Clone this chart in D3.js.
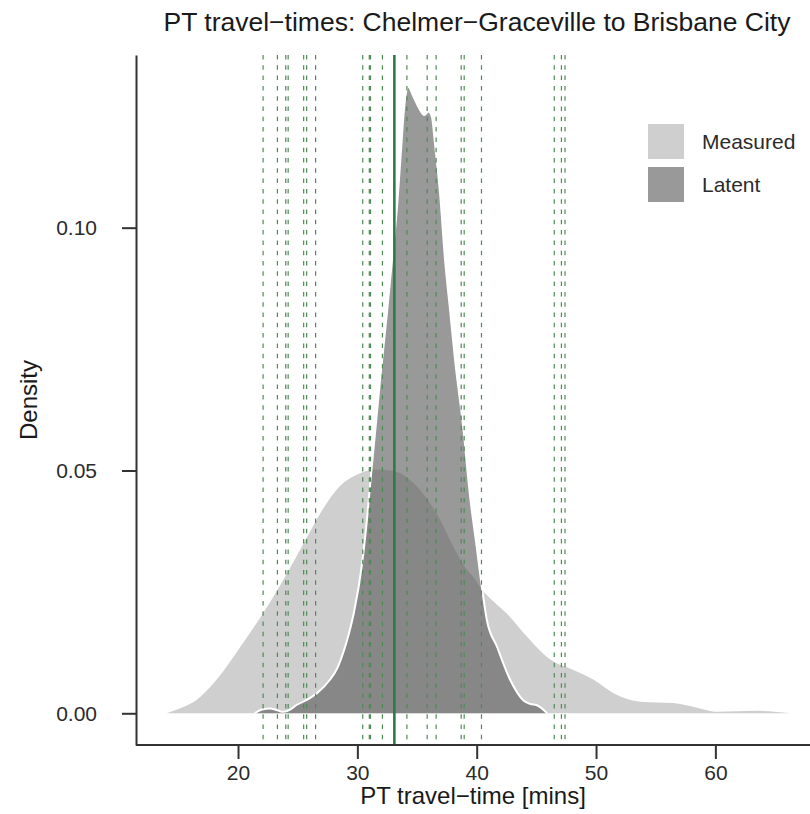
<!DOCTYPE html>
<html><head><meta charset="utf-8">
<script src="https://cdn.jsdelivr.net/npm/d3@7"></script>
<style>
body{margin:0;background:#fff}
svg text{font-family:"Liberation Sans",Arial,Helvetica,sans-serif}
</style>
</head><body>
<svg id="chart" width="810" height="814"></svg>
<script>
// ---------- data ----------
const chartTitle = "PT travel\u2212times: Chelmer\u2212Graceville to Brisbane City";
const xLabel = "PT travel\u2212time [mins]";
const yLabel = "Density";
const seriesNames = ["Measured", "Latent"];
const seriesColors = ["#cfcfcf", "#999999"];

const measuredX = [14.0, 15.0, 16.5, 18.2, 20.2, 22.1, 23.8, 25.5, 26.9, 28.5, 30.2, 31.6, 33.3, 34.7, 36.1, 36.9, 38.0, 39.0, 39.7, 40.4, 41.5, 42.5, 44.2, 46.2, 48.1, 49.8, 51.5, 53.7, 56.5, 58.7, 60.1, 63.5, 66.3];
const measuredY = [0.0, 0.0009, 0.0027, 0.0069, 0.0137, 0.0206, 0.0275, 0.0350, 0.0412, 0.0467, 0.0494, 0.0502, 0.0497, 0.0474, 0.0432, 0.0400, 0.0345, 0.0302, 0.0281, 0.0256, 0.0228, 0.0206, 0.0158, 0.0110, 0.0089, 0.0069, 0.0041, 0.0024, 0.0021, 0.0010, 0.0003, 0.0005, 0.0];

const latentX = [21.4, 22.0, 22.7, 23.3, 23.8, 24.4, 24.9, 25.8, 26.6, 27.7, 28.3, 28.8, 29.3, 29.7, 30.4, 30.8, 31.1, 31.5, 31.9, 32.5, 32.9, 33.3, 33.6, 33.9, 34.05, 34.27, 34.7, 35.26, 35.6, 35.95, 36.24, 36.5, 36.93, 37.35, 37.77, 38.19, 38.9, 39.45, 40.0, 40.43, 40.85, 41.7, 42.8, 43.9, 44.5, 45.0, 45.9];
const latentY = [0.0, 0.0008, 0.0010, 0.0006, 0.0003, 0.0008, 0.0017, 0.0028, 0.0041, 0.0069, 0.0092, 0.0124, 0.0165, 0.0206, 0.0309, 0.0398, 0.0480, 0.0583, 0.0686, 0.0830, 0.0933, 0.1036, 0.1139, 0.1242, 0.1275, 0.1290, 0.1270, 0.1242, 0.1232, 0.1239, 0.1229, 0.1174, 0.1071, 0.0933, 0.0830, 0.0727, 0.0583, 0.0446, 0.0343, 0.0261, 0.0192, 0.0137, 0.0069, 0.0027, 0.0019, 0.0017, 0.0];

const observedTimes = [22.1, 23.3, 24.0, 24.2, 25.5, 25.75, 26.5, 30.45, 31.0, 31.1, 32.1, 34.15, 35.85, 36.6, 38.7, 38.95, 40.4, 46.5, 47.1, 47.4];
const centralTime = 33.1;

const xTicks = [20, 30, 40, 50, 60];
const yTicks = [0.00, 0.05, 0.10];

// ---------- layout ----------
const svg = d3.select("#chart");
const x = d3.scaleLinear().domain([11.45, 67.93]).range([136, 810]);
const y = d3.scaleLinear().domain([-0.00653, 0.13556]).range([745, 55]);

const measured = measuredX.map((v, i) => ({x: v, y: measuredY[i]}));
const latent = latentX.map((v, i) => ({x: v, y: latentY[i]}));

const area = d3.area().curve(d3.curveMonotoneX)
  .x(d => x(d.x)).y0(y(0)).y1(d => y(d.y));
const line = d3.line().curve(d3.curveMonotoneX)
  .x(d => x(d.x)).y(d => y(d.y));

svg.append("path").datum(measured).attr("d", area)
  .attr("fill", seriesColors[0]);

svg.append("path").datum(latent).attr("d", area)
  .attr("fill", "#5a5a5a").attr("fill-opacity", 0.62);
svg.append("path").datum(latent).attr("d", line)
  .attr("fill", "none").attr("stroke", "#ffffff").attr("stroke-width", 2);

// vertical reference lines
svg.append("g").selectAll("line").data(observedTimes).join("line")
  .attr("x1", d => x(d)).attr("x2", d => x(d))
  .attr("y1", y.range()[1]).attr("y2", y.range()[0])
  .attr("stroke", "#4f8a55").attr("stroke-width", 1.2)
  .attr("stroke-dasharray", "4.5,5.8");

svg.append("line")
  .attr("x1", x(centralTime)).attr("x2", x(centralTime))
  .attr("y1", y.range()[1]).attr("y2", y.range()[0])
  .attr("stroke", "#2e7b47").attr("stroke-width", 2.6);

// axes
const xAxis = svg.append("g").attr("transform", "translate(0,745)")
  .call(d3.axisBottom(x).tickValues(xTicks).tickSize(14).tickSizeOuter(0).tickPadding(6));
const yAxis = svg.append("g").attr("transform", "translate(136,0)")
  .call(d3.axisLeft(y).tickValues(yTicks).tickFormat(d3.format(".2f")).tickSize(14).tickSizeOuter(0).tickPadding(25));
[xAxis, yAxis].forEach(g => {
  g.select(".domain").attr("stroke", "#333").attr("stroke-width", 2);
  g.selectAll(".tick line").attr("stroke", "#333").attr("stroke-width", 2);
  g.selectAll(".tick text").attr("fill", "#2b2b2b").attr("font-size", 21)
    .style("font-family", "'Liberation Sans', Arial, sans-serif");
});
xAxis.select(".domain").attr("d", "M136,0H810");

// titles
svg.append("text").attr("x", 477).attr("y", 31).attr("text-anchor", "middle")
  .attr("font-size", 26.5).attr("fill", "#1a1a1a").text(chartTitle);
svg.append("text").attr("x", 473).attr("y", 804).attr("text-anchor", "middle")
  .attr("font-size", 24).attr("fill", "#1a1a1a").text(xLabel);
svg.append("text").attr("transform", "translate(37,400) rotate(-90)").attr("text-anchor", "middle")
  .attr("font-size", 24).attr("fill", "#1a1a1a").text(yLabel);

// legend
const legend = svg.append("g");
seriesNames.forEach((name, i) => {
  legend.append("rect").attr("x", 648).attr("y", 124 + i * 43).attr("width", 36).attr("height", 35)
    .attr("fill", seriesColors[i]);
  legend.append("text").attr("x", 702).attr("y", 142 + i * 43).attr("dy", "0.35em")
    .attr("font-size", 21).attr("fill", "#2b2b2b").text(name);
});
</script>
</body></html>
